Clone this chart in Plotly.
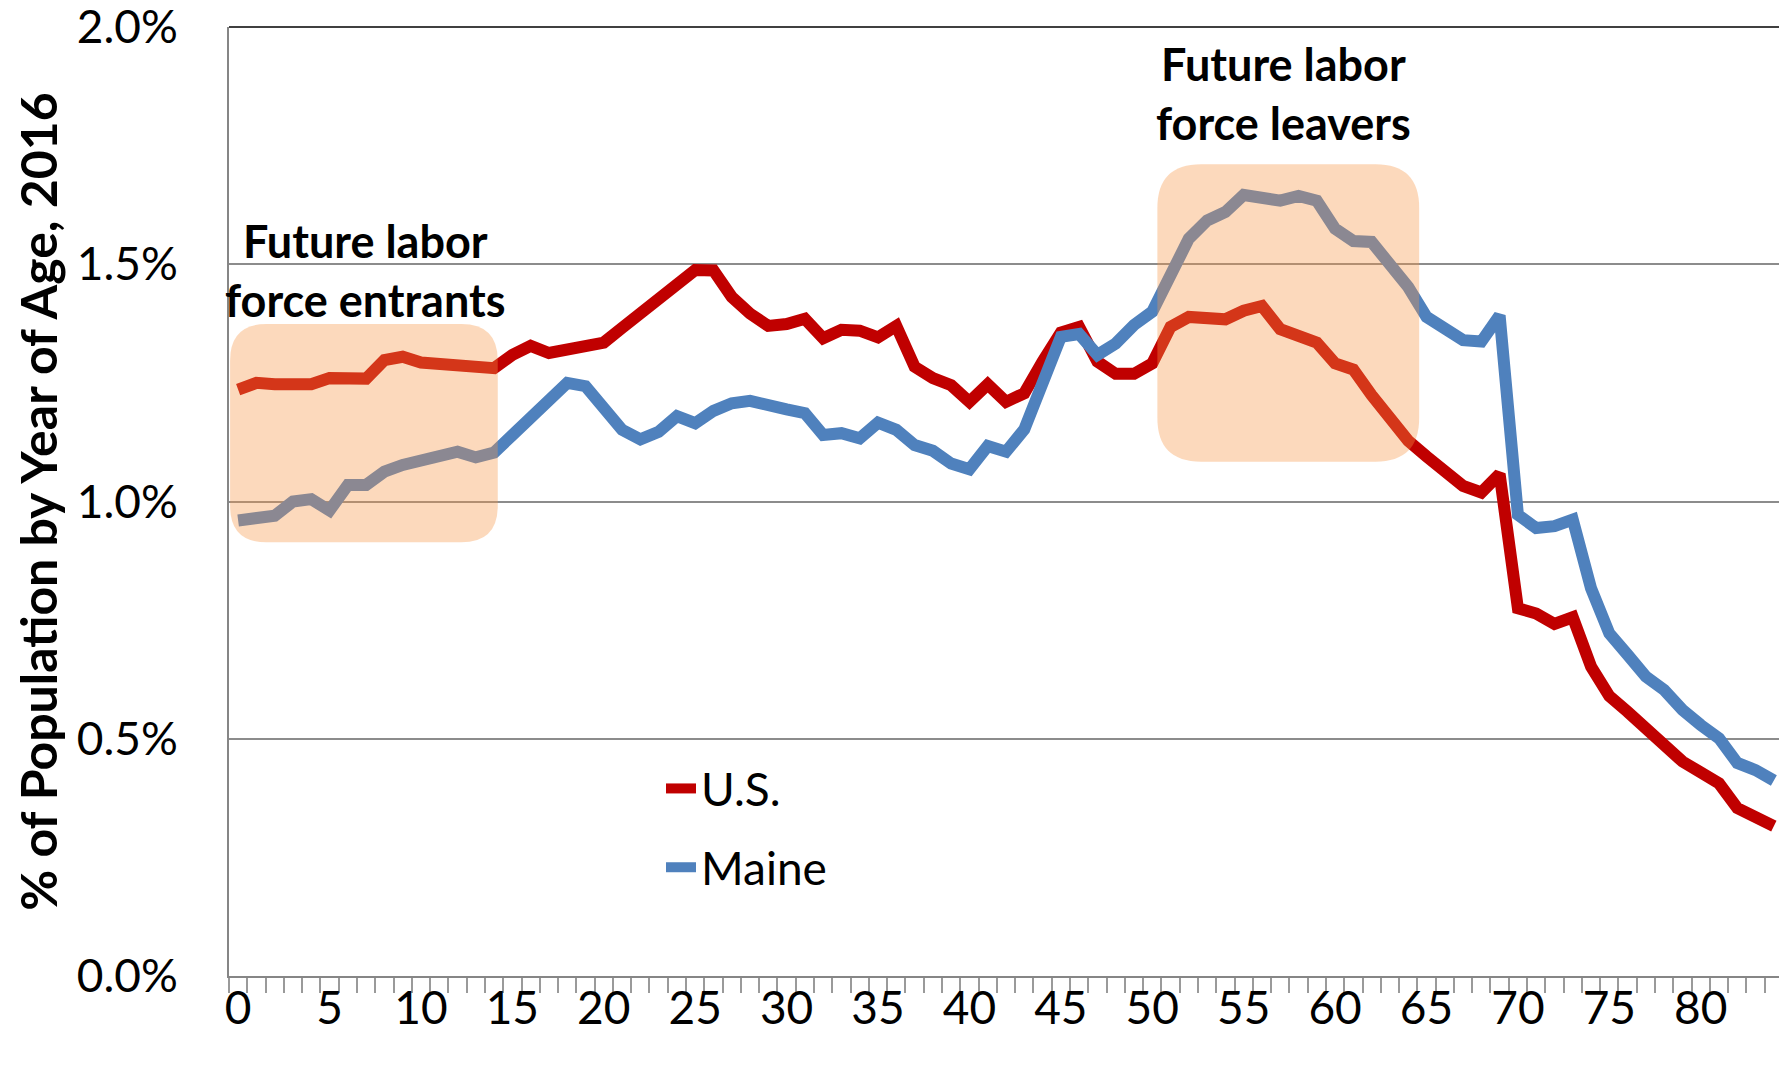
import plotly.graph_objects as go

# ---------------- data ----------------
ages = list(range(85))

us = [1.236, 1.250, 1.247, 1.244, 1.247, 1.260, 1.260, 1.259, 1.298, 1.305,
      1.293, 1.290, 1.292, 1.285, 1.281, 1.309, 1.328, 1.313, 1.319, 1.326,
      1.335, 1.366, 1.398, 1.424, 1.463, 1.488, 1.487, 1.431, 1.396, 1.370,
      1.374, 1.385, 1.344, 1.362, 1.360, 1.346, 1.370, 1.284, 1.260, 1.245,
      1.210, 1.247, 1.210, 1.228, 1.295, 1.356, 1.368, 1.295, 1.269, 1.269,
      1.291, 1.368, 1.389, 1.388, 1.384, 1.402, 1.412, 1.363, 1.351, 1.335,
      1.291, 1.278, 1.224, 1.175, 1.128, 1.095, 1.066, 1.033, 1.019, 1.058,
      0.775, 0.764, 0.742, 0.756, 0.652, 0.590, 0.557, 0.522, 0.494, 0.452,
      0.429, 0.406, 0.354, 0.337, 0.316]

maine = [0.960, 0.968, 0.970, 1.000, 1.005, 0.981, 1.035, 1.035, 1.063, 1.077,
         1.087, 1.101, 1.105, 1.093, 1.103, 1.140, 1.178, 1.214, 1.250, 1.243,
         1.200, 1.151, 1.131, 1.147, 1.180, 1.165, 1.191, 1.207, 1.212, 1.200,
         1.194, 1.186, 1.140, 1.144, 1.133, 1.166, 1.151, 1.119, 1.107, 1.080,
         1.068, 1.117, 1.105, 1.152, 1.245, 1.347, 1.353, 1.309, 1.333, 1.372,
         1.400, 1.477, 1.554, 1.592, 1.610, 1.646, 1.637, 1.634, 1.644, 1.634,
         1.575, 1.549, 1.547, 1.502, 1.452, 1.389, 1.361, 1.340, 1.337, 1.392,
         0.972, 0.944, 0.948, 0.962, 0.817, 0.722, 0.677, 0.631, 0.603, 0.561,
         0.529, 0.501, 0.449, 0.434, 0.412]

series_names = ["U.S.", "Maine"]
series_colors = ["#C00000", "#4F81BD"]

x_tick_vals = list(range(0, 81, 5))
x_tick_text = [str(v) for v in x_tick_vals]
y_tick_vals = [0.0, 0.5, 1.0, 1.5, 2.0]
y_tick_text = ["0.0%", "0.5%", "1.0%", "1.5%", "2.0%"]
y_title = "% of Population by Year of Age, 2016"

# highlight regions (age range, percent range)
box_x = [(-0.44, 14.2), (50.28, 64.6)]
box_y = [(0.914, 1.374), (1.084, 1.711)]
box_labels = ["Future labor<br>force entrants", "Future labor<br>force leavers"]
label_pos = [(6.94, 1.486), (57.16, 1.859)]

# ---------------- layout geometry ----------------
# page body has an 8px margin, so the figure is laid out 8px smaller/offset
W, H = 1779, 1057
ML, MR, MT, MB = 221, 4, 19, 89
PW, PH = W - ML - MR, H - MT - MB
X_RANGE = [-0.5, 84.5]
Y_RANGE = [0, 2.0]
px_x = PW / (X_RANGE[1] - X_RANGE[0])
px_y = PH / (Y_RANGE[1] - Y_RANGE[0])

FONT = "Lato"

fig = go.Figure()
for name, vals, col, grp in zip(series_names, [us, maine], series_colors, ["g1", "g2"]):
    fig.add_trace(go.Scatter(
        x=ages, y=vals, mode="lines", name=name, legendgroup=grp,
        line=dict(color=col, width=12),
    ))


def rounded_rect(x0, x1, y0, y1):
    rpx = min((x1 - x0) * px_x, (y1 - y0) * px_y) / 6.0
    rx, ry = rpx / px_x, rpx / px_y
    return (f"M {x0 + rx},{y0} L {x1 - rx},{y0} Q {x1},{y0} {x1},{y0 + ry} "
            f"L {x1},{y1 - ry} Q {x1},{y1} {x1 - rx},{y1} "
            f"L {x0 + rx},{y1} Q {x0},{y1} {x0},{y1 - ry} "
            f"L {x0},{y0 + ry} Q {x0},{y0} {x0 + rx},{y0} Z")


shapes = []
for (x0, x1), (y0, y1) in zip(box_x, box_y):
    shapes.append(dict(type="path", xref="x", yref="y", layer="above",
                       path=rounded_rect(x0, x1, y0, y1),
                       fillcolor="rgba(247,150,70,0.36)", line=dict(width=0)))
# plot-area border (top and right)
shapes.append(dict(type="line", xref="paper", yref="paper", x0=0, x1=1, y0=1, y1=1,
                   line=dict(color="#404040", width=2)))
shapes.append(dict(type="line", xref="paper", yref="paper", x0=1, x1=1, y0=0, y1=1,
                   line=dict(color="#404040", width=2)))

annotations = []
for txt, (ax, ay) in zip(box_labels, label_pos):
    annotations.append(dict(x=ax, y=ay, xref="x", yref="y", text=txt, showarrow=False,
                            xanchor="center", yanchor="middle", align="center",
                            font=dict(family=FONT, size=45, color="black", weight="bold")))

fig.update_layout(
    width=W, height=H,
    margin=dict(l=ML, r=MR, t=MT, b=MB, pad=0),
    paper_bgcolor="white", plot_bgcolor="white",
    font=dict(family=FONT, size=46, color="black"),
    showlegend=True,
    legend=dict(x=0.278, y=0.236, xanchor="left", yanchor="top",
                bgcolor="rgba(0,0,0,0)", borderwidth=0, tracegroupgap=16,
                font=dict(family=FONT, size=46, color="black"), itemwidth=30),
    shapes=shapes,
    annotations=annotations,
    xaxis=dict(
        range=X_RANGE, tickmode="array", tickvals=x_tick_vals, ticktext=x_tick_text,
        ticks="", showgrid=False, zeroline=False, automargin=False,
        showline=True, linecolor="#868686", linewidth=2,
        ticklabelstandoff=-9, ticklabeloverflow="allow",
        tickfont=dict(family=FONT, size=46, color="black"),
        minor=dict(tick0=-0.5, dtick=1, ticks="outside", ticklen=15,
                   tickcolor="#9A9A9A", tickwidth=1.5, showgrid=False),
    ),
    yaxis=dict(
        range=Y_RANGE, tickmode="array", tickvals=y_tick_vals, ticktext=y_tick_text,
        ticks="", showgrid=True, gridcolor="#8C8C8C", gridwidth=1.5,
        zeroline=False, automargin=False,
        showline=True, linecolor="#868686", linewidth=2,
        ticklabelstandoff=40, ticklabeloverflow="allow",
        tickfont=dict(family=FONT, size=46, color="black"),
        title=dict(text=y_title, standoff=11,
                   font=dict(family=FONT, size=50, color="black", weight="bold")),
    ),
)

fig.write_html("out.html")
